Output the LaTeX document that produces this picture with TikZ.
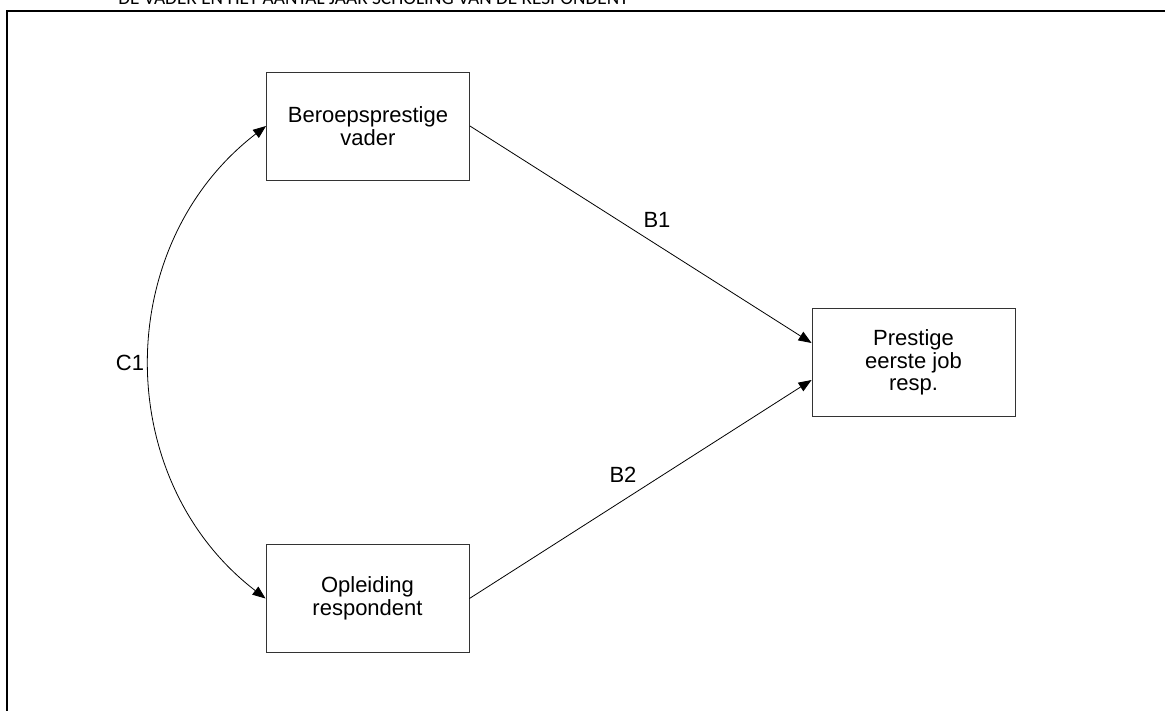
\documentclass[tikz,border=0pt]{standalone}
\usepackage{fontspec}
\setmainfont{Liberation Sans}
\newfontfamily\titlefont{Carlito}
\usetikzlibrary{arrows.meta}
\begin{document}
\begin{tikzpicture}[x=1pt,y=-1pt,
  varbox/.style={draw=black!80,line width=0.9pt,rectangle,minimum width=203pt,minimum height=108pt,inner sep=0pt,align=center,font=\fontsize{22}{22.5}\selectfont},
  lbl/.style={font=\fontsize{22}{22.5}\selectfont,inner sep=0pt},
  conn/.style={line width=0.8pt,-{Triangle[length=13pt,width=10pt]}},
  biconn/.style={line width=0.8pt,{Triangle[length=13pt,width=10pt]}-{Triangle[length=13pt,width=10pt]}}]
\useasboundingbox (0,0) rectangle (1165,710);
\fill[white] (0,0) rectangle (1165,710);
% outer frame (partly outside the visible page)
\draw[line width=2pt] (6.5,760) -- (6.5,11) -- (1200,11);
% cut-off title
\node[anchor=base,inner sep=0pt,font=\titlefont\fontsize{19.3}{20}\selectfont] (title) at (373.5,4.5) {DE VADER EN HET AANTAL JAAR SCHOLING VAN DE RESPONDENT};
% variables
\node[varbox] (b1) at (368,126) {Beroepsprestige\\vader};
\node[varbox] (b2) at (367.5,598.5) {Opleiding\\respondent};
\node[varbox] (b3) at (913.5,362.5) {Prestige\\eerste job\\resp.};
% paths
\draw[conn] (b1.east) -- ([yshift=19.5pt]b3.west);
\draw[conn] (b2.east) -- ([yshift=-17.5pt]b3.west);
\draw[biconn] (b1.west) .. controls +(-154.6,118.9) and +(-154.6,-118.9) .. (b2.west);
% labels
\node[lbl] (lb1) at (657,220) {B1};
\node[lbl] (lb2) at (623,475) {B2};
\node[lbl] (lc1) at (130,363) {C1};
\end{tikzpicture}
\end{document}
